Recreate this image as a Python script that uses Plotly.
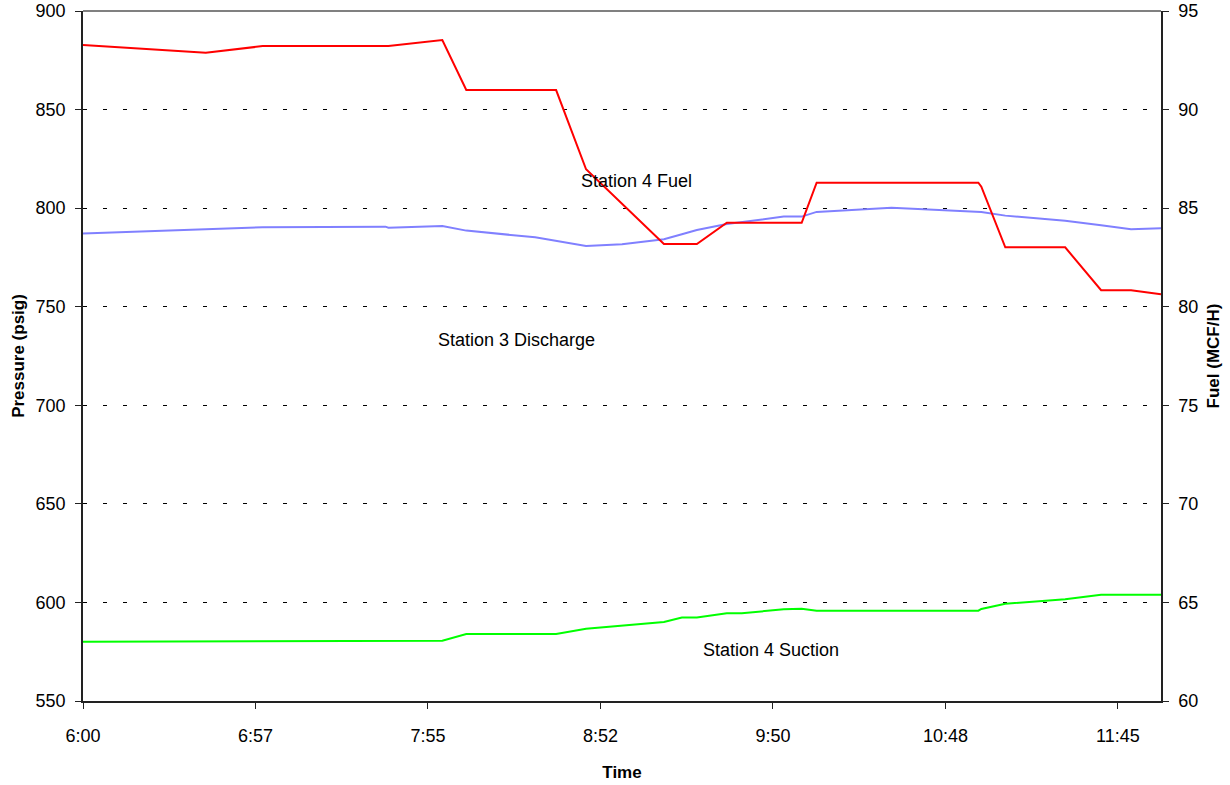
import plotly.graph_objects as go
from datetime import datetime, timedelta

# ---- data ----
TIMES = ["06:00", "06:41", "07:00", "07:41", "07:42", "08:00", "08:08", "08:31", "08:38",
         "08:48", "09:00", "09:06", "09:14", "09:20", "09:25", "09:35", "09:40", "09:54",
         "10:00", "10:05", "10:30", "10:59", "11:00", "11:08", "11:28", "11:40", "11:50", "12:00"]

STATION3_DISCHARGE = [787.2, 789.4, 790.3, 790.6, 790.1, 790.9, 788.6, 785.2, 783.4,
                      780.8, 781.7, 782.9, 784.2, 786.8, 788.9, 792.0, 793.0, 795.7,
                      795.7, 798.1, 800.2, 798.2, 798.1, 796.2, 793.6, 791.3, 789.3, 789.8]

STATION4_SUCTION = [580.1, 580.3, 580.4, 580.5, 580.5, 580.6, 584.0, 584.0, 584.0,
                    586.6, 588.2, 589.0, 590.1, 592.3, 592.3, 594.5, 594.5, 596.5,
                    596.8, 595.8, 595.8, 595.8, 596.7, 599.3, 601.6, 603.9, 603.9, 603.9]

STATION4_FUEL = [93.27, 92.88, 93.22, 93.22, 93.22, 93.53, 90.99, 90.99, 90.99,
                 86.97, 85.22, 84.35, 83.18, 83.18, 83.18, 84.26, 84.26, 84.26,
                 84.26, 86.29, 86.29, 86.29, 86.09, 83.01, 83.01, 80.84, 80.84, 80.63]

X_TICK_LABELS = ["6:00", "6:57", "7:55", "8:52", "9:50", "10:48", "11:45"]
X_START = "06:00"
X_END = "12:00"
MAJOR_UNIT_MIN = 57.6  # 0.04 day

LEFT_RANGE = [550, 900]
RIGHT_RANGE = [60, 95]

LABELS = [
    ("Station 4 Fuel", "09:05", 813.7),
    ("Station 3 Discharge", "08:24:36", 733.0),
    ("Station 4 Suction", "09:49:48", 575.8),
]


def to_dt(t):
    fmt = "%H:%M:%S" if t.count(":") == 2 else "%H:%M"
    tt = datetime.strptime(t, fmt)
    return datetime(2000, 1, 1, tt.hour, tt.minute, tt.second)


x = [to_dt(t) for t in TIMES]
x0 = to_dt(X_START)
x1 = to_dt(X_END)
tickvals = [x0 + timedelta(minutes=MAJOR_UNIT_MIN * i) for i in range(len(X_TICK_LABELS))]

FONT = "Arial, Liberation Sans, sans-serif"

fig = go.Figure()
fig.add_trace(go.Scatter(x=x, y=STATION3_DISCHARGE, mode="lines", name="Station 3 Discharge",
                         line=dict(color="#8080FF", width=2), yaxis="y"))
fig.add_trace(go.Scatter(x=x, y=STATION4_SUCTION, mode="lines", name="Station 4 Suction",
                         line=dict(color="#00FF00", width=2), yaxis="y"))
fig.add_trace(go.Scatter(x=x, y=STATION4_FUEL, mode="lines", name="Station 4 Fuel",
                         line=dict(color="#FF0000", width=2), yaxis="y2"))

for text, t, yv in LABELS:
    fig.add_annotation(x=to_dt(t), y=yv, xref="x", yref="y", text=text, showarrow=False,
                       font=dict(family=FONT, size=18, color="black"),
                       xanchor="center", yanchor="middle")

fig.add_shape(type="line", xref="paper", yref="paper", x0=0, x1=1, y0=1, y1=1,
              line=dict(color="#808080", width=2), layer="above")

fig.update_layout(
    width=1230, height=785, autosize=False,
    margin=dict(l=83, r=69, t=11, b=84, pad=0),
    paper_bgcolor="white", plot_bgcolor="white",
    showlegend=False,
    font=dict(family=FONT, size=18, color="black"),
    xaxis=dict(
        type="date", range=[x0, x1], automargin=False,
        tickmode="array", tickvals=tickvals, ticktext=X_TICK_LABELS,
        showgrid=False, zeroline=False,
        showline=True, linecolor="#222222", linewidth=1.5,
        ticks="outside", ticklen=6, tickcolor="#222222", tickwidth=1,
        ticklabelstandoff=12,
        title=dict(text="<b>Time</b>", font=dict(size=17), standoff=21),
    ),
    yaxis=dict(
        range=LEFT_RANGE, dtick=50, tick0=550, automargin=False,
        showgrid=True, gridcolor="black", gridwidth=1, griddash="4px,16px",
        zeroline=False, ticklabeloverflow="allow",
        showline=True, linecolor="#222222", linewidth=1.5,
        ticks="outside", ticklen=6, tickcolor="#222222",
        ticklabelstandoff=6,
        title=dict(text="<b>Pressure (psig)</b>", font=dict(size=17), standoff=7),
    ),
    yaxis2=dict(
        range=RIGHT_RANGE, dtick=5, tick0=60, automargin=False,
        overlaying="y", side="right", ticklabeloverflow="allow",
        showgrid=False, zeroline=False,
        showline=True, linecolor="#222222", linewidth=1.5,
        ticks="outside", ticklen=6, tickcolor="#222222",
        ticklabelstandoff=6,
        title=dict(text="<b>Fuel (MCF/H)</b>", font=dict(size=17), standoff=10),
    ),
)

fig.write_html("out.html", config={"displayModeBar": False},
               post_script="document.body.style.margin='0';")
